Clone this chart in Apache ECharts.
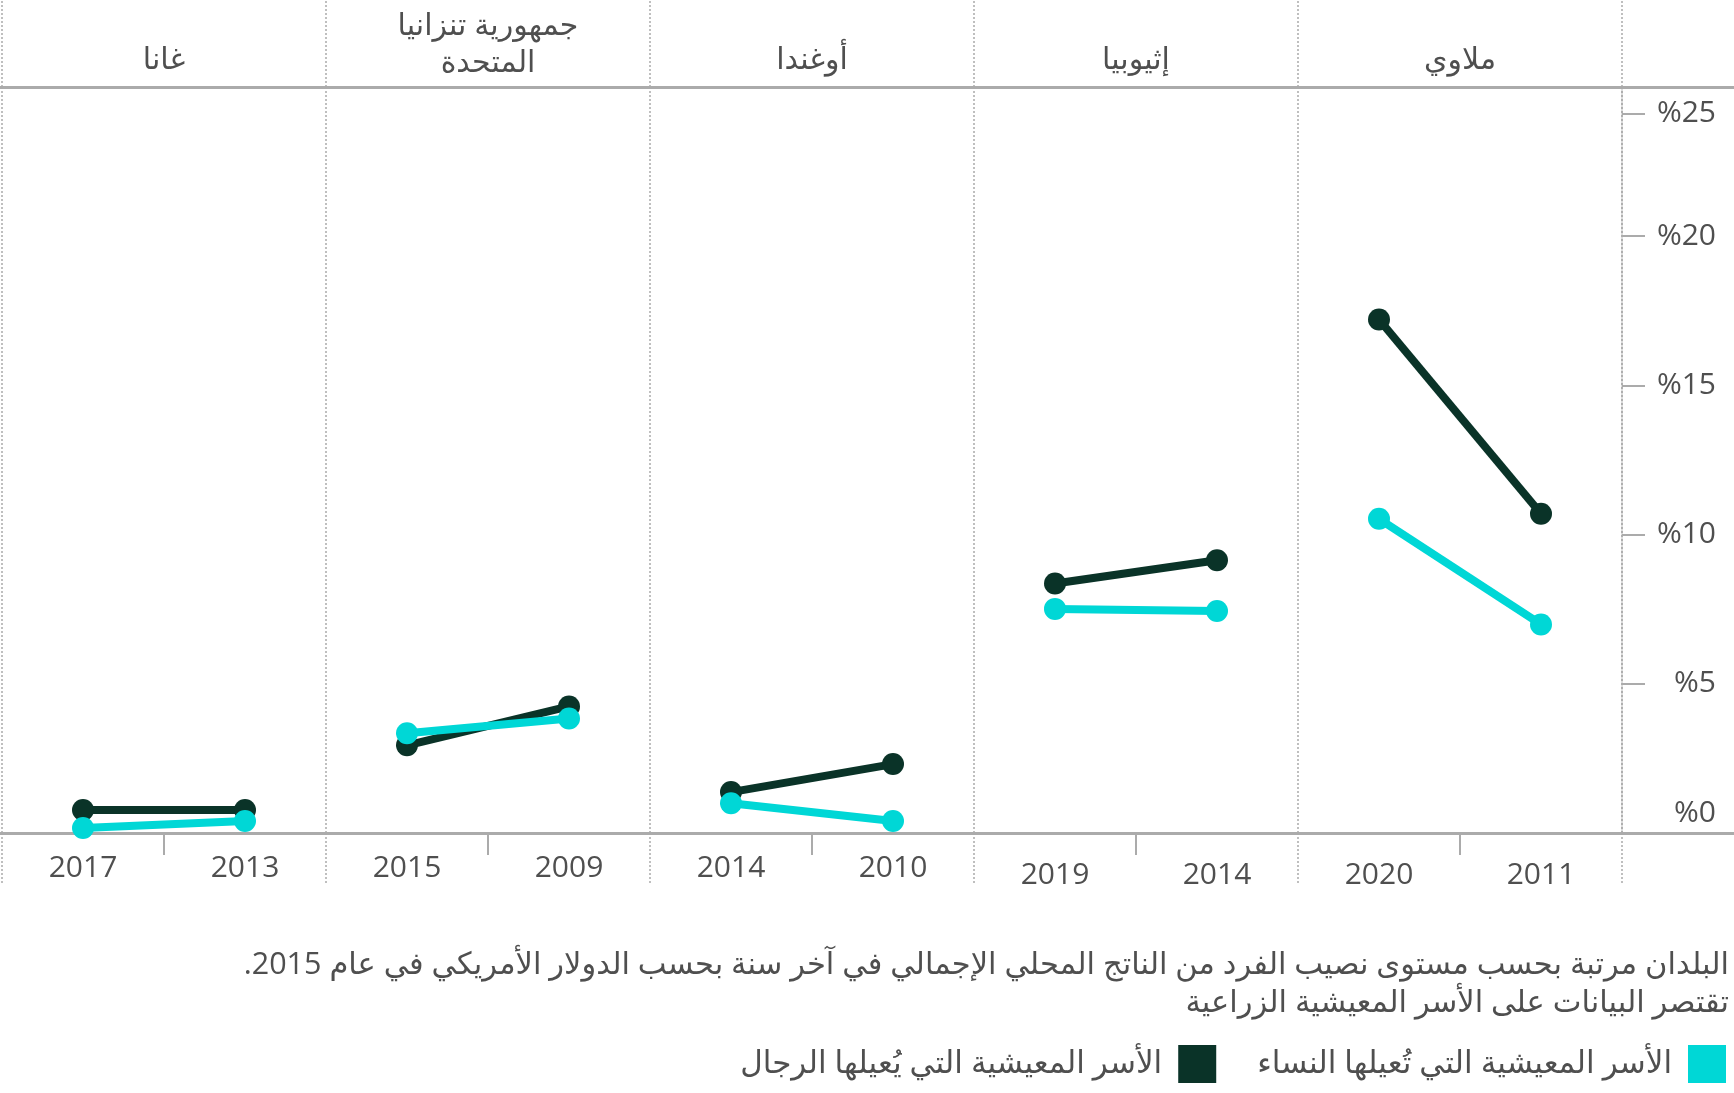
<!DOCTYPE html>
<html dir="rtl">
<head>
<meta charset="utf-8">
<script src="https://cdn.jsdelivr.net/npm/echarts@6/dist/echarts.min.js"></script>
<style>
html,body{margin:0;padding:0;background:#fff;overflow:hidden;}
#chart{width:1734px;height:1093px;}
</style>
</head>
<body>
<div id="chart"></div>
<script>
// ---- data ----
const countries = ['غانا', 'جمهورية تنزانيا\nالمتحدة', 'أوغندا', 'إثيوبيا', 'ملاوي'];
const years = ['2017', '2013', '2015', '2009', '2014', '2010', '2019', '2014', '2020', '2011'];
const maleHeaded = [0.77, 0.77, 2.94, 4.24, 1.37, 2.31, 8.36, 9.14, 17.21, 10.70];
const femaleHeaded = [0.17, 0.40, 3.34, 3.84, 1.00, 0.40, 7.51, 7.44, 10.53, 6.99];
const yTickValues = [5, 10, 15, 20, 24.1];
const yLabelValues = [0.67, 5, 10, 15, 20, 24.1];
const yLabelText = ['%0', '%5', '%10', '%15', '%20', '%25'];
const maleName = 'الأسر المعيشية التي يُعيلها الرجال';
const femaleName = 'الأسر المعيشية التي تُعيلها النساء';
const footnote = 'البلدان مرتبة بحسب مستوى نصيب الفرد من الناتج المحلي الإجمالي في آخر سنة بحسب الدولار الأمريكي في عام 2015.\nتقتصر البيانات على الأسر المعيشية الزراعية';

const DARK = '#0a3328';
const CYAN = '#00d7d6';
const GRAY = '#ababab';
const TEXT = '#4f4f4f';
const FONT = '"Open Sans", "DejaVu Sans", sans-serif';

function panelSeries(values, name, color) {
  const out = [];
  for (let c = 0; c < countries.length; c++) {
    out.push({
      type: 'line',
      name: name,
      xAxisIndex: 0,
      yAxisIndex: 0,
      data: values.map((v, i) => (Math.floor(i / 2) === c ? v : null)),
      symbol: 'circle',
      symbolSize: 22,
      showAllSymbol: true,
      lineStyle: { color: color, width: 8 },
      itemStyle: { color: color },
      emphasis: { disabled: true },
      z: 3
    });
  }
  return out;
}

const chart = echarts.init(document.getElementById('chart'), null, { renderer: 'canvas' });
chart.setOption({
  animation: false,
  backgroundColor: '#fff',
  textStyle: { fontFamily: FONT },
  title: {
    text: footnote,
    left: 1724,
    top: 941,
    textAlign: 'right',
    textStyle: { fontFamily: FONT, fontSize: 30.5, lineHeight: 38, color: TEXT, fontWeight: 'normal' }
  },
  legend: {
    data: [maleName, femaleName],
    right: 3,
    top: 1040,
    align: 'right',
    itemWidth: 38,
    itemHeight: 38,
    itemGap: 41,
    icon: 'rect',
    selectedMode: false,
    textStyle: { fontFamily: FONT, fontSize: 31, color: TEXT, padding: [0, 11, 0, 0] }
  },
  grid: [
    { left: 2, right: 112, top: 87, bottom: 260, containLabel: false },
    { left: 0, right: 0, top: 87, bottom: 260, containLabel: false }
  ],
  xAxis: [
    { // years
      type: 'category', gridIndex: 0, position: 'bottom', data: years,
      axisLine: { show: false }, axisTick: { show: false },
      axisLabel: {
        interval: 0, hideOverlap: false,
        margin: 20, fontSize: 30, color: TEXT, fontFamily: FONT,
        formatter: (v, i) => (i >= 6 ? '{b|' + v + '}' : '{a|' + v + '}'),
        rich: {
          a: { fontSize: 30, color: TEXT, fontFamily: FONT },
          b: { fontSize: 30, color: TEXT, fontFamily: FONT, padding: [7, 0, 0, 0] }
        }
      }
    },
    { // mid-panel short ticks
      type: 'category', gridIndex: 0, position: 'bottom', data: countries,
      axisLine: { show: false }, axisLabel: { show: false },
      axisTick: { show: true, alignWithLabel: true, length: 22, lineStyle: { color: GRAY, width: 2 } }
    },
    { // panel boundary dotted ticks below baseline
      type: 'category', gridIndex: 0, position: 'bottom', data: countries,
      axisLine: { show: false }, axisLabel: { show: false },
      axisTick: { show: true, length: 52, lineStyle: { color: GRAY, width: 1.5, type: [2, 2] } }
    },
    { // country headers
      type: 'category', gridIndex: 0, position: 'top', data: countries,
      axisLine: { show: false },
      axisTick: { show: true, length: 87, lineStyle: { color: GRAY, width: 1.5, type: [2, 2] } },
      splitLine: { show: true, lineStyle: { color: GRAY, width: 1.5, type: [2, 2] } },
      axisLabel: {
        margin: 5, fontSize: 30, color: TEXT, fontFamily: FONT, interval: 0, hideOverlap: false,
        formatter: (v) => v.indexOf('\n') >= 0
          ? v.split('\n').map(l => '{b|' + l + '}').join('\n')
          : '{a|' + v + '}',
        rich: {
          a: { fontSize: 30, lineHeight: 37, color: TEXT, fontFamily: FONT, padding: [0, 0, 6, 0] },
          b: { fontSize: 30, lineHeight: 37, color: TEXT, fontFamily: FONT }
        }
      }
    },
    { // full-width baseline
      type: 'value', gridIndex: 1, position: 'bottom', min: 0, max: 1,
      axisLine: { show: true, onZero: false, lineStyle: { color: GRAY, width: 3 } },
      axisTick: { show: false }, axisLabel: { show: false }, splitLine: { show: false }
    },
    { // full-width header line
      type: 'value', gridIndex: 1, position: 'top', min: 0, max: 1,
      axisLine: { show: true, onZero: false, lineStyle: { color: GRAY, width: 3 } },
      axisTick: { show: false }, axisLabel: { show: false }, splitLine: { show: false }
    }
  ],
  yAxis: [
    {
      type: 'value', gridIndex: 0, position: 'right', min: 0, max: 25,
      axisLine: { show: true, lineStyle: { color: GRAY, width: 1.5, type: [2, 2] } },
      axisTick: { show: true, customValues: yTickValues, length: 23, lineStyle: { color: GRAY, width: 2 } },
      axisLabel: {
        customValues: yLabelValues,
        formatter: (v) => yLabelText[yLabelValues.indexOf(v)],
        align: 'right', margin: 94, fontSize: 30, color: TEXT, fontFamily: FONT
      },
      splitLine: { show: false }
    },
    {
      type: 'value', gridIndex: 1, min: 0, max: 1, show: false
    }
  ],
  series: panelSeries(maleHeaded, maleName, DARK).concat(panelSeries(femaleHeaded, femaleName, CYAN))
});
</script>
</body>
</html>
